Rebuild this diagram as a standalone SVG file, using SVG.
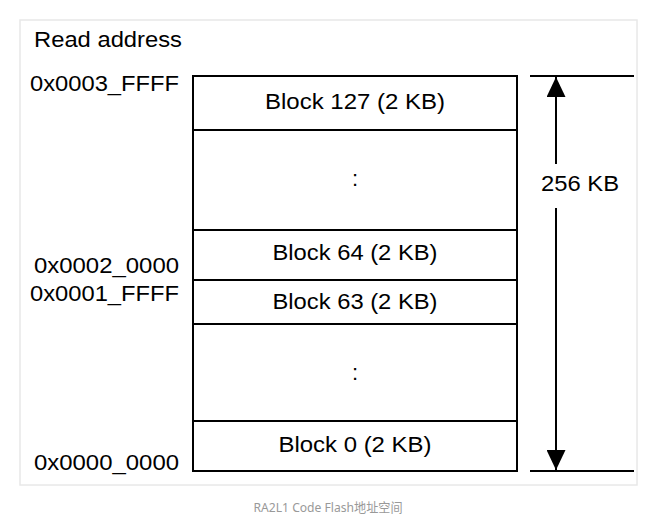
<svg xmlns="http://www.w3.org/2000/svg" width="657" height="532" viewBox="0 0 657 532">
  <style>
    .t { font-family: "Liberation Sans", Arial, sans-serif; font-size: 22px; fill: #000; }
    .c { text-anchor: middle; }
    .e { text-anchor: end; }
    .box { fill: #fff; stroke: #000; stroke-width: 2; }
    .ln { stroke: #000; stroke-width: 2; fill: none; }
    .cap { font-family: "Noto Sans", "Noto Sans CJK SC", sans-serif; font-size: 13px; fill: #999; text-anchor: middle; }
  </style>
  <defs>
    <marker id="ah" viewBox="0 0 20 19" refX="20" refY="9.5" markerWidth="20" markerHeight="19" markerUnits="userSpaceOnUse" orient="auto">
      <path d="M0,0 L20,9.5 L0,19 Z" fill="#000"/>
    </marker>
  </defs>
  <rect width="657" height="532" fill="#fff"/>
  <rect x="20" y="20" width="617" height="465" fill="#fff" stroke="#e8e8e8" stroke-width="1.5"/>

  <text class="t" x="34" y="47" textLength="148" lengthAdjust="spacingAndGlyphs">Read address</text>

  <g id="addresses">
    <text class="t e" x="179" y="91" textLength="149" lengthAdjust="spacingAndGlyphs">0x0003_FFFF</text>
    <text class="t e" x="179" y="273" textLength="145" lengthAdjust="spacingAndGlyphs">0x0002_0000</text>
    <text class="t e" x="179" y="301" textLength="149" lengthAdjust="spacingAndGlyphs">0x0001_FFFF</text>
    <text class="t e" x="179" y="470" textLength="145" lengthAdjust="spacingAndGlyphs">0x0000_0000</text>
  </g>

  <g id="block127">
    <rect class="box" x="193" y="76" width="324" height="54"/>
    <text class="t c" x="355" y="109" textLength="180" lengthAdjust="spacingAndGlyphs">Block 127 (2 KB)</text>
  </g>
  <g id="gap-upper">
    <rect class="box" x="193" y="130" width="324" height="100"/>
    <text class="t c" x="355" y="186">:</text>
  </g>
  <g id="block64">
    <rect class="box" x="193" y="230" width="324" height="50"/>
    <text class="t c" x="355" y="260" textLength="165" lengthAdjust="spacingAndGlyphs">Block 64 (2 KB)</text>
  </g>
  <g id="block63">
    <rect class="box" x="193" y="280" width="324" height="44"/>
    <text class="t c" x="355" y="309" textLength="165" lengthAdjust="spacingAndGlyphs">Block 63 (2 KB)</text>
  </g>
  <g id="gap-lower">
    <rect class="box" x="193" y="324" width="324" height="97"/>
    <text class="t c" x="355" y="380">:</text>
  </g>
  <g id="block0">
    <rect class="box" x="193" y="421" width="324" height="50"/>
    <text class="t c" x="355" y="452" textLength="153" lengthAdjust="spacingAndGlyphs">Block 0 (2 KB)</text>
  </g>

  <g id="connectors">
    <line class="ln" x1="530" y1="76" x2="634" y2="76"/>
    <line class="ln" x1="530" y1="471" x2="634" y2="471"/>
    <line class="ln" x1="556" y1="164" x2="556" y2="77" marker-end="url(#ah)"/>
    <line class="ln" x1="556" y1="208" x2="556" y2="470" marker-end="url(#ah)"/>
  </g>
  <g id="size-label">
    <text class="t c" x="580" y="191" textLength="78" lengthAdjust="spacingAndGlyphs">256 KB</text>
  </g>

  <text class="cap" x="328" y="512" textLength="149" lengthAdjust="spacingAndGlyphs">RA2L1 Code Flash地址空间</text>
</svg>
